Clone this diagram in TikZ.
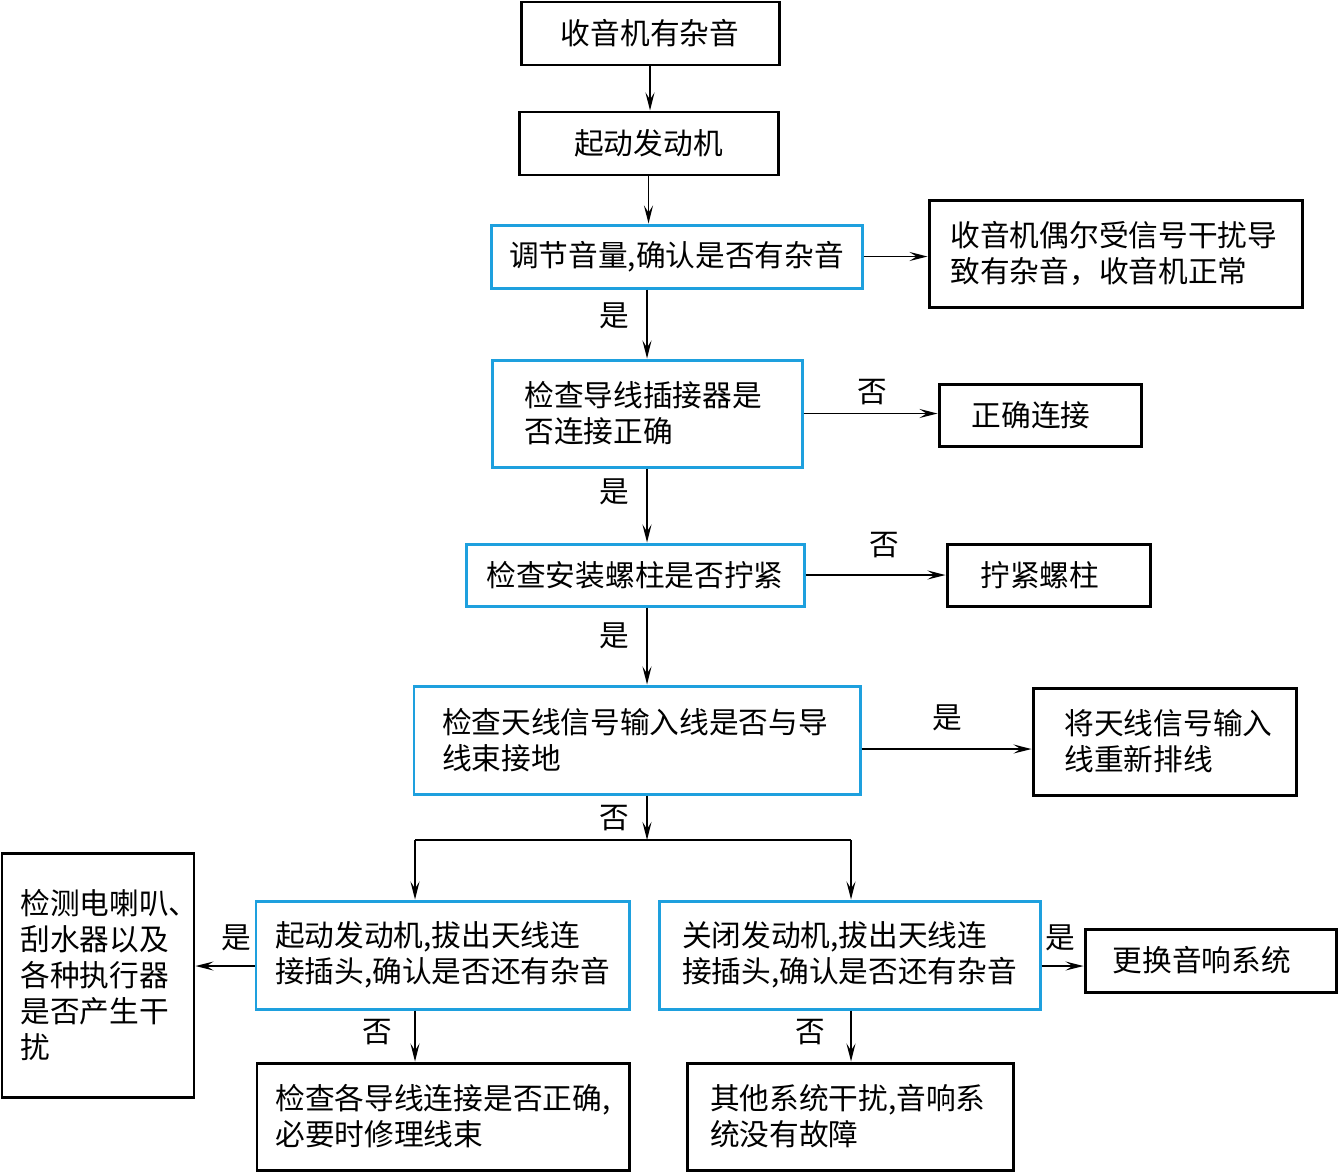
\documentclass[tikz,border=0pt]{standalone}
\usepackage{fontspec}
\setmainfont{Noto Sans CJK SC}
\usetikzlibrary{positioning,arrows.meta}
\definecolor{chkblue}{RGB}{30,160,222}
\tikzset{
  flowarrow/.style={-{Stealth[length=3.6mm, width=1.8mm, inset=1.4mm]}, line width=0.9pt},
  flowline/.style={line width=0.9pt},
  plainbox/.style={draw, line width=1.7pt, minimum height=1.26cm, align=center, inner sep=0pt},
  testbox/.style={draw=chkblue, line width=1.7pt, minimum height=1.26cm, align=center, inner sep=0pt},
  leftbox/.style={align=left, minimum height=2.14cm},
  relabel/.style={inner sep=0pt}
}

\begin{document}
\begin{tikzpicture}[every node/.style={font=\fontsize{16.9pt}{20.5pt}\selectfont}]
  \useasboundingbox (0,0) rectangle (26.76,-23.46);
  % main column
  \node[plainbox, minimum width=5.16cm] (noise) at (13.0,-0.67) {收音机有杂音};
  \node[plainbox, minimum width=5.18cm] (engine) at (12.97,-2.87) {起动发动机};
  \node[testbox, minimum width=7.42cm] (volume) at (13.53,-5.13) {调节音量,确认是否有杂音};
  \node[plainbox, leftbox, minimum width=7.46cm, text width=6.6cm] (normal) at (22.31,-5.07) {收音机偶尔受信号干扰导\\致有杂音，收音机正常};
  \node[testbox, leftbox, minimum width=6.2cm, text width=4.9cm] (plug) at (12.94,-8.27) {检查导线插接器是\\否连接正确};
  \node[plainbox, minimum width=4.04cm, minimum height=1.24cm] (reconnect) at (20.8,-8.3) {正确连接\hspace{0.35cm}};
  \node[testbox, minimum width=6.76cm, minimum height=1.24cm] (bolt) at (12.7,-11.5) {检查安装螺柱是否拧紧};
  \node[plainbox, minimum width=4.06cm, minimum height=1.24cm] (tighten) at (20.97,-11.5) {拧紧螺柱\hspace{0.35cm}};
  \node[testbox, leftbox, minimum width=8.92cm, minimum height=2.16cm, text width=7.8cm] (antenna) at (12.74,-14.8) {检查天线信号输入线是否与导\\线束接地};
  \node[plainbox, leftbox, minimum width=5.26cm, text width=4.0cm] (reroute) at (23.29,-14.83) {将天线信号输入\\线重新排线};
  % lower branches
  \node[plainbox, leftbox, minimum width=3.84cm, minimum height=4.88cm, text width=3.1cm] (others) at (1.96,-19.5) {检测电喇叭、\\刮水器以及\\各种执行器\\是否产生干\\扰};
  \node[testbox, leftbox, minimum width=7.46cm, minimum height=2.16cm, text width=6.7cm] (runtest) at (8.85,-19.1) {起动发动机,拔出天线连\\接插头,确认是否还有杂音};
  \node[testbox, leftbox, minimum width=7.62cm, minimum height=2.16cm, text width=6.7cm] (offtest) at (16.99,-19.1) {关闭发动机,拔出天线连\\接插头,确认是否还有杂音};
  \node[plainbox, minimum width=5.02cm] (replace) at (24.21,-19.21) {更换音响系统\hspace{0.35cm}};
  \node[plainbox, leftbox, minimum width=7.44cm, text width=6.7cm] (harness) at (8.86,-22.33) {检查各导线连接是否正确,\\必要时修理线束};
  \node[plainbox, leftbox, minimum width=6.52cm, text width=5.6cm] (nofault) at (17.0,-22.33) {其他系统干扰,音响系\\统没有故障};

  % labels
  \node[relabel] (y1) at (12.28,-6.32) {是};
  \node[relabel] (n1) at (17.44,-7.84) {否};
  \node[relabel] (y2) at (12.28,-9.84) {是};
  \node[relabel] (n2) at (17.68,-10.9) {否};
  \node[relabel] (y3) at (12.28,-12.72) {是};
  \node[relabel] (y4) at (18.94,-14.36) {是};
  \node[relabel] (n3) at (12.28,-16.36) {否};
  \node[relabel] (y5) at (4.72,-18.76) {是};
  \node[relabel] (n4) at (7.54,-20.64) {否};
  \node[relabel] (y6) at (21.2,-18.76) {是};
  \node[relabel] (n5) at (16.2,-20.64) {否};

  \coordinate (split) at (12.94,-16.8);
  \coordinate (splitl) at (8.3,-16.8);
  \coordinate (splitr) at (17.02,-16.8);

  \draw[flowarrow] (noise) -- (noise |- engine.north);
  \draw[flowarrow] (engine) -- (engine |- volume.north);
  \draw[flowarrow] (volume) -- (volume -| normal.west);
  \draw[flowarrow] (volume.south -| plug) -- (plug);
  \draw[flowarrow] (plug) -- (plug -| reconnect.west);
  \draw[flowarrow] (plug) -- (plug |- bolt.north);
  \draw[flowarrow] (bolt) -- (tighten);
  \draw[flowarrow] (bolt.south -| plug) -- (plug |- antenna.north);
  \draw[flowarrow] ([yshift=-0.18cm]antenna.east) -- ([yshift=-0.18cm]antenna.east -| reroute.west);
  \draw[flowarrow] (antenna.south -| plug) -- (split);
  \draw[flowline] (splitl) -- (splitr);
  \draw[flowarrow] (splitl) -- (splitl |- runtest.north);
  \draw[flowarrow] (splitr) -- (splitr |- offtest.north);
  \draw[flowarrow] ([yshift=-0.22cm]runtest.west) -- ([yshift=-0.22cm]runtest.west -| others.east);
  \draw[flowarrow] (runtest.south -| splitl) -- (splitl |- harness.north);
  \draw[flowarrow] ([yshift=-0.22cm]offtest.east) -- ([yshift=-0.22cm]offtest.east -| replace.west);
  \draw[flowarrow] (offtest.south -| splitr) -- (splitr |- nofault.north);
\end{tikzpicture}
\end{document}
